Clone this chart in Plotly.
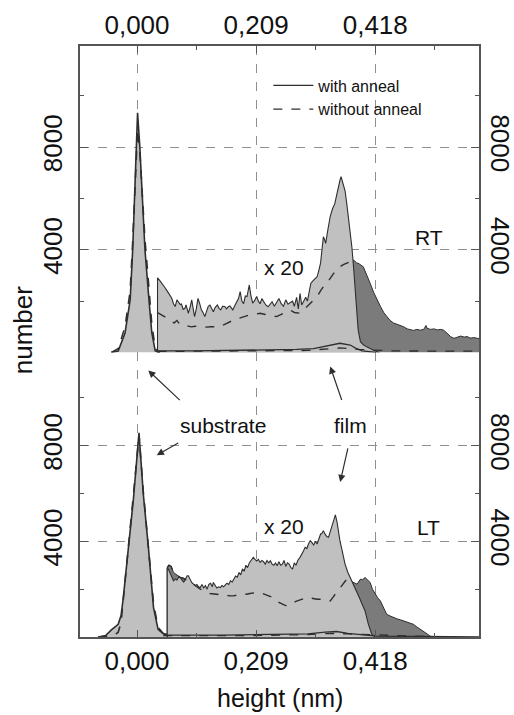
import numpy as np
import plotly.graph_objects as go

# ---------------- data ----------------
# height axis ticks
x_tickvals = [0.0, 0.209, 0.418]
x_ticktext = ["0,000", "0,209", "0,418"]
x_minor = [0.1045, 0.3135, 0.5225]
y_tickvals = [4000, 8000]
y_minor = [2000, 6000, 10000]

# RT panel: substrate peak
rt_sub_x = [-0.045, -0.033, -0.021, -0.012, -0.0076, -0.0018, 0.001, 0.005, 0.014, 0.021, 0.026, 0.032, 0.040]
rt_sub_with = [0, 60, 760, 2045, 3990, 8000, 9340, 8000, 3990, 2045, 760, 60, 0]
rt_sub_without = [0, 150, 1000, 2400, 4300, 7600, 8700, 7800, 4400, 2500, 1100, 150, 0]

# RT panel: film, with anneal (x 20)
rt_film_x = [0.036, 0.036, 0.040, 0.043, 0.048, 0.052, 0.057, 0.061, 0.064, 0.067, 0.070, 0.073, 0.076,
             0.078, 0.081, 0.084, 0.086, 0.088, 0.090, 0.093, 0.096, 0.099, 0.101, 0.104, 0.107, 0.110,
             0.113, 0.116, 0.119, 0.122, 0.125, 0.128, 0.131, 0.134, 0.137, 0.141, 0.144, 0.147, 0.150,
             0.154, 0.157, 0.160, 0.163, 0.166, 0.168, 0.171, 0.174, 0.178, 0.181, 0.184, 0.187, 0.190,
             0.193, 0.197, 0.200, 0.203, 0.207, 0.210, 0.213, 0.216, 0.219, 0.222, 0.226, 0.230, 0.234,
             0.237, 0.241, 0.245, 0.249, 0.253, 0.257, 0.261, 0.265, 0.269, 0.273, 0.276, 0.280, 0.283,
             0.286, 0.289, 0.292, 0.296, 0.299, 0.302, 0.305, 0.309, 0.313, 0.316, 0.319, 0.322, 0.325,
             0.327, 0.329, 0.331, 0.335, 0.339, 0.343, 0.347, 0.350, 0.353, 0.356, 0.358, 0.361, 0.365,
             0.368, 0.371, 0.374, 0.377, 0.380, 0.383, 0.386, 0.388, 0.392, 0.397, 0.403, 0.409, 0.415, 0.425]
rt_film_with = [0, 2910, 2800, 2690, 2560, 2430, 2250, 2110, 1900, 1790, 2050, 1980, 1870,
                1890, 1680, 1720, 1850, 1700, 1530, 1750, 2050, 1650, 1400, 1700, 2110, 1900,
                1660, 1550, 1400, 1600, 1800, 1850, 1700, 1590, 1750, 1850, 1720, 1660, 1800,
                1790, 1700, 1780, 1810, 1700, 1660, 1800, 1920, 2100, 2370, 2000, 1900, 2200,
                2180, 2630, 2200, 1920, 2050, 2180, 2000, 1900, 2100, 1980, 1850, 1780, 1900,
                1980, 1800, 1950, 2100, 1900, 1800, 2050, 1880, 1950, 2000, 1800, 2150, 1700,
                2300, 1850, 2000, 2150, 2000, 2400, 2700, 2800, 2900, 2950, 3200, 3480, 4100,
                4510, 4400, 4250, 4800, 5300, 5600, 5800, 6100, 6450, 6700, 6850, 6600, 6300,
                5800, 5290, 4770, 4100, 3300, 2430, 1500, 880, 420, 300, 220, 150, 90, 0]

# RT panel: film, without anneal (x 20)
rt_dash_x = [0.036, 0.036, 0.045, 0.052, 0.058, 0.065, 0.070, 0.075, 0.081, 0.088, 0.095, 0.102, 0.110,
             0.120, 0.130, 0.140, 0.145, 0.152, 0.157, 0.165, 0.173, 0.180, 0.187, 0.195, 0.205, 0.216,
             0.225, 0.235, 0.245, 0.255, 0.262, 0.269, 0.276, 0.286, 0.292, 0.298, 0.305, 0.310, 0.316,
             0.322, 0.328, 0.333, 0.339, 0.345, 0.350, 0.356, 0.362, 0.368, 0.374, 0.380, 0.385, 0.390,
             0.397, 0.403, 0.409, 0.415, 0.421, 0.427, 0.433, 0.438, 0.444, 0.450, 0.456, 0.462, 0.468,
             0.474, 0.479, 0.485, 0.491, 0.497, 0.503, 0.507, 0.509, 0.515, 0.521, 0.527, 0.533, 0.538,
             0.544, 0.550, 0.556, 0.562, 0.568, 0.574, 0.579, 0.585, 0.591, 0.597, 0.605]
rt_dash_without = [0, 1550, 1450, 1350, 1270, 1150, 1250, 1100, 1080, 1050, 1000, 1020, 1000,
                   990, 1000, 1010, 1010, 1080, 1140, 1220, 1300, 1340, 1400, 1450, 1480, 1530,
                   1480, 1420, 1400, 1500, 1600, 1650, 1560, 1530, 1650, 1780, 1950, 2050, 2180,
                   2400, 2600, 2700, 2900, 3080, 3200, 3340, 3420, 3470, 3540, 3600, 3500, 3450,
                   3340, 3050, 2700, 2350, 2050, 1800, 1550, 1400, 1250, 1150, 1100, 1070, 1000,
                   920, 880, 860, 900, 870, 900, 1050, 940, 900, 920, 880, 900, 870,
                   750, 620, 550, 600, 640, 600, 620, 560, 580, 550, 540]

# RT panel: film unscaled (x 1)
rt_x1_with_x = [0.036, 0.036, 0.10, 0.20, 0.28, 0.31, 0.33, 0.356, 0.374, 0.385, 0.395, 0.42]
rt_x1_with = [0, 60, 60, 80, 120, 150, 250, 360, 290, 150, 60, 0]
rt_x1_without_x = [0.036, 0.20, 0.30, 0.356, 0.39, 0.45, 0.605]
rt_x1_without = [40, 50, 80, 180, 120, 60, 50]

# LT panel: substrate peak
lt_sub_x = [-0.068, -0.055, -0.045, -0.038, -0.033, -0.028, -0.024, -0.015, -0.0065, 0.0035,
            0.011, 0.020, 0.029, 0.037, 0.046, 0.053]
lt_sub_with = [0, 60, 300, 420, 530, 900, 1650, 3750, 5720, 8540, 6000, 3750, 1230, 320, 140, 100]
lt_sub_without = [0, 20, 50, 100, 200, 600, 1500, 3800, 5900, 8450, 6100, 3900, 1400, 400, 150, 100]

# LT panel: film, with anneal (x 20)
lt_film_x = [0.053, 0.053, 0.055, 0.058, 0.061, 0.064, 0.067, 0.070, 0.073, 0.076, 0.079, 0.082, 0.085,
             0.088, 0.090, 0.093, 0.096, 0.099, 0.102, 0.105, 0.108, 0.111, 0.114, 0.117, 0.120, 0.123,
             0.126, 0.129, 0.132, 0.134, 0.137, 0.140, 0.143, 0.146, 0.149, 0.152, 0.155, 0.158, 0.161,
             0.164, 0.167, 0.170, 0.173, 0.176, 0.179, 0.182, 0.185, 0.188, 0.191, 0.194, 0.197, 0.200,
             0.204, 0.207, 0.210, 0.213, 0.216, 0.219, 0.222, 0.225, 0.228, 0.231, 0.234, 0.237, 0.240,
             0.243, 0.246, 0.249, 0.252, 0.255, 0.258, 0.261, 0.264, 0.267, 0.270, 0.273, 0.276, 0.279,
             0.282, 0.286, 0.289, 0.292, 0.295, 0.298, 0.301, 0.304, 0.307, 0.310, 0.313, 0.316, 0.319,
             0.322, 0.325, 0.327, 0.330, 0.333, 0.336, 0.339, 0.342, 0.345, 0.348, 0.351, 0.354, 0.356,
             0.360, 0.365, 0.370, 0.375, 0.380, 0.385, 0.390, 0.395, 0.400, 0.406, 0.412, 0.418]
lt_film_with = [0, 2845, 2840, 2650, 2500, 2350, 2420, 2380, 2500, 2490, 2380, 2300, 2420,
                2560, 2560, 2400, 2280, 2210, 2150, 2200, 2100, 2070, 2200, 2050, 2150, 2000,
                2200, 2250, 2100, 2280, 2150, 2050, 2100, 2070, 2150, 2100, 2180, 2250, 2200,
                2350, 2300, 2450, 2550, 2500, 2700, 2600, 2850, 2750, 3000, 2900, 3100, 3200,
                3330, 3250, 3180, 3250, 3120, 3200, 3150, 3050, 3200, 3100, 3190, 3050, 3000,
                3100, 2980, 3150, 3000, 3050, 3200, 2950, 3100, 3050, 2900, 2850, 3100, 3000,
                3200, 3330, 3500, 3600, 3750, 3700, 3900, 4030, 3950, 3850, 4000, 3890, 4100,
                4300, 4350, 4450, 4300, 4200, 4170, 4400, 4700, 4900, 5110, 4800, 4300, 4030,
                3600, 3050, 2700, 2450, 2210, 1950, 1650, 1370, 1100, 530, 110, 0]

# LT panel: film, without anneal (x 20)
lt_dash_x = [0.053, 0.053, 0.056, 0.060, 0.064, 0.070, 0.076, 0.082, 0.088, 0.093, 0.099, 0.105, 0.111,
             0.116, 0.122, 0.128, 0.134, 0.140, 0.146, 0.152, 0.158, 0.164, 0.169, 0.175, 0.181, 0.187,
             0.192, 0.198, 0.204, 0.210, 0.216, 0.222, 0.228, 0.234, 0.239, 0.245, 0.251, 0.257, 0.263,
             0.268, 0.274, 0.280, 0.286, 0.292, 0.298, 0.304, 0.310, 0.316, 0.321, 0.327, 0.333, 0.339,
             0.345, 0.351, 0.356, 0.362, 0.368, 0.374, 0.380, 0.386, 0.392, 0.396, 0.400, 0.404, 0.409,
             0.413, 0.418, 0.422, 0.427, 0.432, 0.438, 0.444, 0.450, 0.456, 0.462, 0.468, 0.474, 0.480,
             0.485, 0.491, 0.497, 0.503, 0.509, 0.514, 0.520]
lt_dash_without = [0, 2900, 3000, 2950, 2700, 2600, 2490, 2450, 2350, 2280, 2210, 2100, 2000,
                   1950, 1860, 1820, 1800, 1790, 1790, 1760, 1740, 1720, 1720, 1760, 1780, 1800,
                   1790, 1820, 1850, 1860, 1860, 1800, 1750, 1700, 1650, 1500, 1420, 1350, 1300,
                   1380, 1440, 1500, 1560, 1620, 1650, 1630, 1600, 1580, 1580, 1550, 1520, 1510,
                   1700, 1900, 2070, 2250, 2420, 2350, 2280, 2210, 2420, 2400, 2490, 2400, 2280,
                   2000, 1790, 1650, 1510, 1250, 950, 880, 810, 760, 720, 670, 620, 570,
                   530, 420, 330, 250, 130, 40, 0]

# LT panel: film unscaled (x 1)
lt_x1_with_x = [0.053, 0.053, 0.15, 0.25, 0.30, 0.33, 0.35, 0.37, 0.40, 0.42, 0.50, 0.60]
lt_x1_with = [0, 80, 80, 100, 130, 200, 230, 150, 100, 40, 20, 0]
lt_x1_without_x = [0.046, 0.20, 0.30, 0.34, 0.37, 0.42, 0.50, 0.53]
lt_x1_without = [60, 60, 100, 150, 130, 80, 30, 0]

# ---------------- style ----------------
LIGHT = "#c0c0c0"
DARK = "#7b7b7b"
INK = "#2e2e2e"
GRID = "#8f8f8f"
FRAME = "#555555"
FONT = "Liberation Sans, Arial, sans-serif"

fig = go.Figure()


def add_panel(xa, ya, yr, sub_x, sub_w, sub_wo, fx, fw, dx, dwo, cut, x1wx, x1w, x1wox, x1wo, legend):
    dx = np.array(dx)
    dwo = np.array(dwo)
    # without anneal x20 (dark, shows where it exceeds the annealed curve)
    fig.add_trace(go.Scatter(x=dx, y=dwo, xaxis=xa, yaxis=ya, mode="lines", fill="tozeroy",
                             fillcolor=DARK, line=dict(color=INK, width=1), showlegend=False))
    # with anneal x20 (light)
    fig.add_trace(go.Scatter(x=fx, y=fw, xaxis=xa, yaxis=ya, mode="lines", fill="tozeroy",
                             fillcolor=LIGHT, line=dict(color=INK, width=1.1), showlegend=False))
    m = dx <= cut
    fig.add_trace(go.Scatter(x=dx[m][1:], y=dwo[m][1:], xaxis=xa, yaxis=ya, mode="lines",
                             line=dict(color=INK, width=1.4, dash="dash"), showlegend=False))
    # substrate peak
    fig.add_trace(go.Scatter(x=sub_x, y=sub_w, xaxis=xa, yaxis=ya, mode="lines", fill="tozeroy",
                             fillcolor=LIGHT, line=dict(color=INK, width=1.6), showlegend=False))
    fig.add_trace(go.Scatter(x=sub_x, y=sub_wo, xaxis=xa, yaxis=ya, mode="lines",
                             line=dict(color=INK, width=1.6, dash="dash"), showlegend=False))
    # unscaled film
    fig.add_trace(go.Scatter(x=x1wx, y=x1w, xaxis=xa, yaxis=ya, mode="lines",
                             line=dict(color=INK, width=1.3), name="with anneal",
                             showlegend=legend))
    fig.add_trace(go.Scatter(x=x1wox, y=x1wo, xaxis=xa, yaxis=ya, mode="lines",
                             line=dict(color=INK, width=1.3, dash="dash"), name="without anneal",
                             showlegend=legend))
    # invisible copy so the right-hand axis of this panel is drawn
    fig.add_trace(go.Scatter(x=sub_x, y=sub_w, xaxis=xa, yaxis=yr, mode="lines", opacity=0,
                             hoverinfo="skip", showlegend=False))


add_panel("x2", "y2", "y4", rt_sub_x, rt_sub_with, rt_sub_without, rt_film_x, rt_film_with,
          rt_dash_x, rt_dash_without, 0.381, rt_x1_with_x, rt_x1_with, rt_x1_without_x,
          rt_x1_without, True)
add_panel("x", "y", "y3", lt_sub_x, lt_sub_with, lt_sub_without, lt_film_x, lt_film_with,
          lt_dash_x, lt_dash_without, 0.372, lt_x1_with_x, lt_x1_with, lt_x1_without_x,
          lt_x1_without, False)

tickfont = dict(family=FONT, size=26, color="#111")
xcommon = dict(range=[-0.1, 0.6], tickvals=x_tickvals, ticktext=x_ticktext, ticks="inside",
               ticklen=7, tickcolor=FRAME, tickwidth=1.2, showgrid=True, gridcolor=GRID,
               griddash="dash", gridwidth=1, zeroline=False, showline=True, linecolor=FRAME,
               linewidth=1.6, tickfont=tickfont, automargin=False, ticklabelstandoff=0,
               minor=dict(tickvals=x_minor, ticks="inside", ticklen=4, tickcolor=FRAME, showgrid=False))
ycommon = dict(tickvals=y_tickvals, ticks="inside", ticklen=8, tickcolor=FRAME, tickwidth=1.2,
               showgrid=True, gridcolor=GRID, griddash="dash", gridwidth=1, zeroline=False,
               showline=True, linecolor=FRAME, linewidth=1.6, tickfont=tickfont, tickangle=-90,
               ticklabelstandoff=6, automargin=False,
               minor=dict(tickvals=y_minor, ticks="inside", ticklen=4, tickcolor=FRAME, showgrid=False))

split = 0.4814
fig.update_layout(
    width=514, height=715,
    margin=dict(l=80, r=35, t=46, b=78, autoexpand=False),
    paper_bgcolor="white", plot_bgcolor="white",
    font=dict(family=FONT, color="#111"),
    xaxis=dict(xcommon, anchor="y", domain=[0, 1], side="bottom"),
    xaxis2=dict(xcommon, anchor="y2", domain=[0, 1], side="top", matches="x"),
    yaxis=dict(ycommon, anchor="x", domain=[0, split], range=[0, 11900]),
    yaxis2=dict(ycommon, anchor="x2", domain=[split, 1], range=[0, 11940]),
    yaxis3=dict(ycommon, overlaying="y", side="right", anchor="x", range=[0, 11900],
                tickangle=90, showgrid=False, ticklabelstandoff=0),
    yaxis4=dict(ycommon, overlaying="y2", side="right", anchor="x2", range=[0, 11940],
                tickangle=90, showgrid=False, ticklabelstandoff=0),
    showlegend=True,
    legend=dict(x=0.472, y=0.962, xanchor="left", yanchor="top", bgcolor="rgba(0,0,0,0)",
                font=dict(family=FONT, size=16, color="#111"), itemwidth=40, tracegroupgap=0),
)

ann_font = dict(family=FONT, size=21, color="#111")
labels = [
    ("x 20", 0.258, 3303, "x2", "y2"),
    ("RT", 0.512, 4479, "x2", "y2"),
    ("x 20", 0.258, 4635, "x", "y"),
    ("LT", 0.512, 4568, "x", "y"),
    ("substrate", 0.151, 8866, "x", "y"),
    ("film", 0.374, 8866, "x", "y"),
]
for txt, x, y, xr, yr in labels:
    fig.add_annotation(text=txt, x=x, y=y, xref=xr, yref=yr, showarrow=False, font=ann_font)

arrows = [
    (0.0198, 11148, 33, 31),
    (0.0346, 7606, 23, -13),
    (0.339, 11316, 12, 35),
    (0.3565, 6484, 8, -35),
]
for x, y, ax, ay in arrows:
    fig.add_annotation(text="", x=x, y=y, xref="x", yref="y", ax=ax, ay=ay, showarrow=True,
                       arrowhead=2, arrowsize=1.2, arrowwidth=1.2, arrowcolor=INK)

fig.add_annotation(text="number", xref="paper", yref="paper", x=-0.143, y=0.519, textangle=-90,
                   xanchor="center", yanchor="middle", showarrow=False,
                   font=dict(family=FONT, size=26, color="#111"))
fig.add_annotation(text="height (nm)", xref="paper", yref="paper", x=0.501, y=-0.104,
                   xanchor="center", yanchor="middle", showarrow=False,
                   font=dict(family=FONT, size=25, color="#111"))

# drop the default page margin so the 514x715 figure fills the window exactly
fig.write_html("out.html", config={"displayModeBar": False},
               post_script="document.body.style.margin='0';document.body.style.overflow='hidden';")
